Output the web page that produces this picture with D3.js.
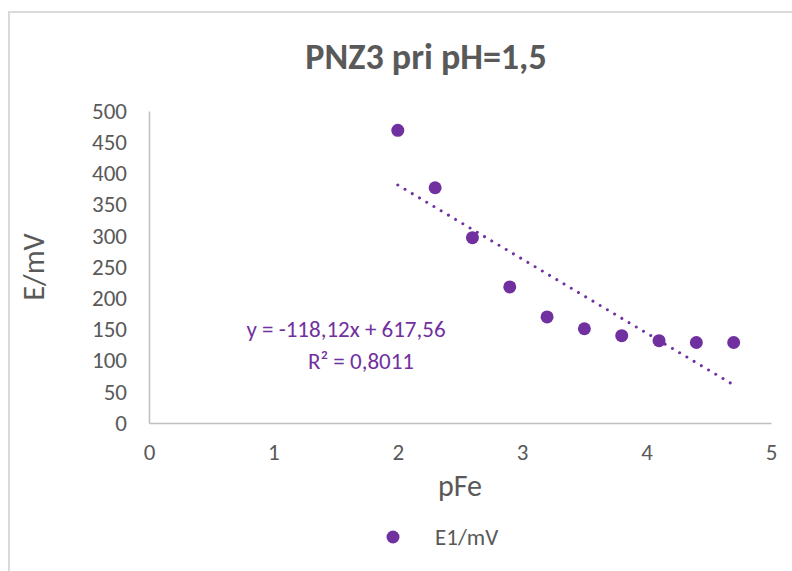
<!DOCTYPE html>
<html>
<head>
<meta charset="utf-8">
<script src="https://cdn.jsdelivr.net/npm/d3@7"></script>
<style>
  body { margin: 0; background: #fff; }
  svg text { font-family: Carlito, Calibri, Lato, sans-serif; fill: #595959; }
</style>
</head>
<body>
<div class="chart"></div>
<script>
// data
var pFe = [2, 2.3, 2.6, 2.9, 3.2, 3.5, 3.8, 4.1, 4.4, 4.7];
var E1 = [469, 377, 297, 218, 170, 151, 140, 132, 129, 129];
var xTicks = [0, 1, 2, 3, 4, 5];
var yTicks = [0, 50, 100, 150, 200, 250, 300, 350, 400, 450, 500];
var trendText = ['y = -118,12x + 617,56', 'R² = 0,8011'];
var seriesName = 'E1/mV';

var svgWidth = 792;
var svgHeight = 571;
var margin = {top: 111, right: 21, bottom: 148, left: 149};
var width = svgWidth - margin.left - margin.right;
var height = svgHeight - margin.top - margin.bottom;
var purple = '#7030a0';

var svg = d3.select('.chart')
    .append('svg')
    .attr('width', svgWidth)
    .attr('height', svgHeight);

// chart border (runs off right and bottom)
svg.append('rect')
    .attr('x', 9).attr('y', 12)
    .attr('width', 800).attr('height', 600)
    .attr('fill', 'none')
    .attr('stroke', '#d9d9d9')
    .attr('stroke-width', 2);

var chart = svg.append('g')
    .attr('transform', 'translate(' + margin.left + ',' + margin.top + ')');

var x = d3.scaleLinear().domain([0, 5]).range([0, width]);
var y = d3.scaleLinear().domain([0, 500]).range([height, 0]);

// axes
var xAxis = chart.append('g')
    .attr('transform', 'translate(0,' + height + ')')
    .call(d3.axisBottom(x).tickValues(xTicks).tickFormat(d3.format('d')).tickSize(0).tickPadding(21));
var yAxis = chart.append('g')
    .call(d3.axisLeft(y).tickValues(yTicks).tickSize(0).tickPadding(22));

[xAxis, yAxis].forEach(function(a) {
    a.attr('font-family', null);
    a.select('.domain').attr('stroke', '#bfbfbf').attr('stroke-width', 1.5);
    a.selectAll('text').attr('font-size', '23px');
});

// linear trendline (least squares)
var mx = d3.mean(pFe), my = d3.mean(E1);
var sxy = d3.sum(pFe, function(d, i) { return (d - mx) * (E1[i] - my); });
var sxx = d3.sum(pFe, function(d) { return (d - mx) * (d - mx); });
var slope = sxy / sxx;
var intercept = my - slope * mx;
var xr = d3.extent(pFe);

chart.append('line')
    .attr('x1', x(xr[0])).attr('y1', y(intercept + slope * xr[0]))
    .attr('x2', x(xr[1])).attr('y2', y(intercept + slope * xr[1]))
    .attr('stroke', purple)
    .attr('stroke-width', 3)
    .attr('stroke-linecap', 'round')
    .attr('stroke-dasharray', '0.01 8.4');

// points
chart.selectAll('circle.pt')
    .data(pFe)
    .enter()
    .append('circle')
    .attr('class', 'pt')
    .attr('cx', function(d) { return x(d); })
    .attr('cy', function(d, i) { return y(E1[i]); })
    .attr('r', 6.5)
    .attr('fill', purple);

// trendline label
chart.selectAll('text.eq')
    .data(trendText)
    .enter()
    .append('text')
    .attr('class', 'eq')
    .attr('x', function(d, i) { return i === 0 ? 197 : 212; })
    .attr('y', function(d, i) { return 226 + i * 32; })
    .attr('text-anchor', 'middle')
    .attr('font-size', '23px')
    .style('fill', purple)
    .text(function(d) { return d; });

// title
svg.append('text')
    .attr('x', 426).attr('y', 69)
    .attr('text-anchor', 'middle')
    .attr('font-size', '36px')
    .attr('font-weight', 'bold')
    .text('PNZ3 pri pH=1,5');

// axis titles
svg.append('text')
    .attr('transform', 'translate(44,' + (margin.top + height / 2) + ') rotate(-90)')
    .attr('text-anchor', 'middle')
    .attr('font-size', '30px')
    .text('E/mV');

svg.append('text')
    .attr('x', margin.left + width / 2)
    .attr('y', 496)
    .attr('text-anchor', 'middle')
    .attr('font-size', '30px')
    .text('pFe');

// legend
var legend = svg.append('g').attr('transform', 'translate(393,537)');
legend.append('circle').attr('r', 6.5).attr('fill', purple);
legend.append('text')
    .attr('x', 42).attr('y', 8)
    .attr('font-size', '23px')
    .text(seriesName);
</script>
</body>
</html>
